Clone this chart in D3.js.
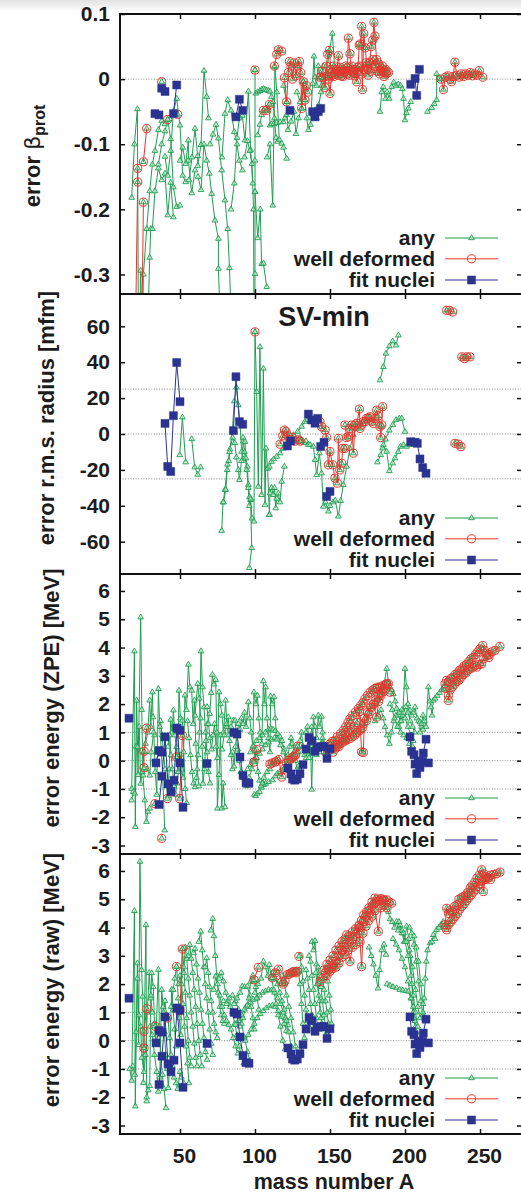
<!DOCTYPE html>
<html>
<head>
<meta charset="utf-8">
<script src="https://cdn.jsdelivr.net/npm/d3@7"></script>
<style>
  html, body { margin: 0; padding: 0; background: #fff; }
  svg { display: block; }
  text { font-family: "Liberation Sans", Arial, Helvetica, sans-serif; font-weight: bold; fill: #1c1c1c; }
</style>
</head>
<body>
<svg id="chart" width="521" height="1196"></svg>
<script>
// ---------- shared axis data ----------
const massTicks = [50, 100, 150, 200, 250];

// ---------- panel 1: error of beta_prot ----------
const betaTicks = [0.1, 0, -0.1, -0.2, -0.3];
const betaTickLabels = ["0.1", "0", "-0.1", "-0.2", "-0.3"];
const betaAny = [
  [[17.8,-0.182],[19.6,-0.100],[21.6,-0.046],[22.4,-0.45]],
  [[22.6,-0.45],[23.8,-0.294],[24.8,-0.40]],
  [[24.5,-0.45],[25.6,-0.30],[27.8,-0.23],[29.8,-0.172],[31.6,-0.131],[33.3,-0.110],[35.6,-0.078],[37.8,-0.064],[40,-0.069]],
  [[27.8,-0.45],[28.8,-0.36],[29.8,-0.274],[30.5,-0.23],[31.6,-0.23],[33.3,-0.172],[35.6,-0.137],[37.8,-0.155],[40,-0.145],[41.8,-0.209],[43.8,-0.159],[45.6,-0.212]],
  [[35.6,-0.131],[37.8,-0.100],[40,-0.080],[41.8,-0.062],[43.8,-0.092],[45.6,-0.166],[47.8,-0.196],[50,-0.194]],
  [[40,-0.119],[41.8,-0.148],[43.8,-0.110],[45.6,-0.050],[47.8,-0.030],[50,-0.071],[51.8,-0.148],[53.8,-0.158]],
  [[50,-0.125],[51.8,-0.105],[53.8,-0.130],[55.6,-0.094],[55.6,-0.125],[57.8,-0.175],[60,-0.140]],
  [[56,-0.155],[58,-0.120],[60,-0.076],[61.8,-0.118],[61.8,-0.133],[64,-0.101],[66,0.013],[67.8,-0.027],[69,-0.060]],
  [[62,-0.150],[64,-0.170],[66,-0.100],[67.8,-0.125],[69.6,-0.145],[71.1,-0.176],[73.3,-0.217],[75.6,-0.245],[75.6,-0.291],[76.7,-0.36]],
  [[70,-0.100],[72,-0.085],[74,-0.070],[75.6,-0.091],[77.8,-0.140],[80,-0.186],[81.8,-0.230],[83,-0.290],[84,-0.36]],
  [[78,-0.120],[80,-0.053],[81.8,-0.032],[84,-0.048],[86.2,-0.081],[88,-0.100],[89.6,-0.125],[91.6,-0.140]],
  [[84,-0.200],[86.2,-0.160],[88,-0.090],[89.6,-0.060],[91.6,-0.056],[93.3,-0.094],[95.6,-0.019],[97.1,-0.109],[98.5,-0.160]],
  [[93,-0.120],[95,-0.095],[96.5,-0.110],[98,-0.130],[99,-0.200],[99.3,-0.36]],
  [[100,0.014],[100,-0.125],[100,-0.173],[100,-0.299],[99.8,-0.40]],
  [[100,-0.173],[101.8,-0.244],[103.5,-0.200],[104.4,-0.284],[105.6,-0.283],[107.8,-0.319]],
  [[100.5,-0.022],[101.8,-0.020],[103.3,-0.018],[104.5,-0.016],[105.6,-0.015],[106.7,-0.016],[107.8,-0.017],[109,-0.018],[110,-0.019],[111,-0.027],[112,-0.035],[113,-0.060],[114,-0.090],[115,-0.096]],
  [[101.8,-0.086],[103.3,-0.070],[104.4,-0.055],[105.6,-0.048],[107.8,-0.048],[109.6,-0.039],[110,-0.071],[111,-0.069],[112.5,-0.069],[114.4,-0.067],[116.7,-0.066],[118.9,-0.066],[120,-0.060],[121,-0.055]],
  [[108,-0.120],[110,-0.100],[111.8,-0.194],[113.3,0.019],[114.5,-0.020],[116.2,-0.093],[117.8,-0.099],[119,-0.105],[121.1,-0.122]],
  [[119,-0.010],[121.1,-0.035],[122,-0.078],[124,-0.065],[126,-0.050],[127.3,-0.084],[129,-0.060],[131,-0.045]],
  [[128,-0.020],[130,-0.035],[132.2,-0.004],[133.3,-0.032],[134.5,-0.060],[135.6,-0.078],[137,-0.070],[138.4,-0.007],[139.3,0.035],[140,0.003],[141,-0.010],[142.2,0.020],[143.5,0.003],[144.4,-0.010],[145.5,0.020]],
  [[141,-0.060],[142.5,-0.040],[144,-0.020],[146,-0.010],[147.5,0.005],[149.6,0.044],[151.6,0.070],[153,0.020]],
  [[183.3,-0.050],[184.5,-0.020],[185.5,-0.012],[187,-0.030],[188,-0.020],[189.5,-0.030],[191,-0.012],[192.5,-0.005],[194,-0.010],[195.5,-0.008],[197,-0.010],[198.2,-0.015],[199,-0.030],[200,-0.063],[201,-0.052],[202.2,-0.045],[203.8,-0.035]],
  [[215,-0.050],[217.8,-0.044],[219.5,-0.038],[221.1,-0.032],[221.1,0.008],[222.5,0.002],[224,0.000]]
];
const betaDeformed = [
  [[19.6,-0.50],[21.8,-0.158],[21.8,-0.137]],
  [[24.0,-0.50],[25.6,-0.189]],
  [[25.6,-0.127],[27.8,-0.076]],
  [[37.8,-0.004]],
  [[41.8,-0.062]],
  [[48.4,-0.054]],
  [[100,0.014]],
  [[105.6,-0.048],[107.8,-0.048],[109.6,-0.039]],
  [[112.9,0.020],[114.5,0.038],[115.6,0.045],[117.8,0.043]],
  [[119.6,0.002],[121.1,-0.035],[122.2,0.010],[122.9,0.027],[124,0.020],[125,0.000],[126.2,0.025],[127.2,0.005],[128.5,0.020],[129.6,0.027],[130.5,0.010],[131.1,-0.045],[132.2,-0.004],[133.3,-0.032],[134.2,-0.010],[135,-0.020]],
  [[143.5,0.003],[144.5,0.012],[145.5,0.002],[146.7,-0.013],[147.5,0.020],[148.5,0.038],[149.6,0.044],[150.5,0.015],[151.5,0.010],[152.5,0.020],[153.5,0.008],[154.5,0.012],[155.6,0.036],[156.5,0.012],[157.5,0.005],[158.5,0.015],[159.5,0.010],[160.5,0.020],[161.5,0.008],[162.2,0.063],[163.3,0.039],[164.2,0.012]],
  [[148,0.005],[149,0.000],[150,-0.022],[151,0.005],[152.5,0.004],[154,0.015],[155.5,0.006],[157,0.018],[158.5,0.004],[160,0.012],[161.5,0.017],[163,0.006],[164.5,0.020],[166,0.010],[167,0.015],[167.8,-0.004],[168.6,0.018],[169.5,0.052],[170.2,0.054],[171.1,0.081],[171.6,-0.016],[172.5,0.070],[173.5,0.048],[174.5,0.020],[175.5,0.015],[176.5,0.025],[177.5,0.050],[178.5,0.060],[179.3,0.087],[180,0.066],[181,0.030],[182,0.025],[183,0.020],[184,0.012],[185,0.020],[186,0.010],[187,0.015],[188,0.012]],
  [[165,0.015],[166.5,0.005],[168,0.010],[169.5,0.020],[171,0.008],[172.5,0.015],[174,0.025],[175.5,0.006],[177,0.012],[178.5,0.030],[180,0.020],[181.5,0.012],[183,0.008],[184.5,0.016],[186,0.004],[187.5,0.008],[189,0.010]],
  [[224,0.000],[225.6,-0.016],[227,0.003],[228.5,0.005],[230,0.000],[231,-0.004],[232,0.004],[233.3,0.026],[234.5,0.006],[236,0.003],[237.5,0.008],[239,0.004],[240.5,0.008],[242,0.006],[243.5,0.010],[245,0.005],[246.5,0.008],[248,0.006],[249.6,0.013],[251.8,0.003]]
];
const betaFit = [
  [[33.3,-0.053],[36,-0.055]],
  [[37.8,-0.014],[40,-0.019]],
  [[45.6,-0.053],[47.8,-0.009]],
  [[87.3,-0.058],[89.6,-0.031],[91.8,-0.048]],
  [[123.3,-0.048]],
  [[138.4,-0.050],[140,-0.058],[142.2,-0.050],[143.8,-0.045]],
  [[203.8,-0.008],[206.7,0.001],[207.8,-0.025],[209.6,0.015]]
];

// ---------- panel 2: error of r.m.s. radius ----------
const radiusTicks = [60, 40, 20, 0, -20, -40, -60];
const radiusTickLabels = ["60", "40", "20", "0", "-20", "-40", "-60"];
const radiusAny = [
  [[49.8,-11.7],[51.6,9.3],[53.8,-15.7]],
  [[57.8,-2.8],[59.8,-18.5],[61.8,-22.6],[63.8,-18.5]],
  [[77.8,-53.9],[78.7,-38],[80,-31],[81.6,-17],[82.5,-15],[83.3,-8.5],[84.9,1.9],[86.2,18.3],[87.6,26],[88.9,16.1],[90,6],[91.1,-9.8],[92.2,-14]],
  [[79,-38],[80.5,-31],[81.5,-20],[83,-10],[85.1,-2],[86.5,-5],[87.6,-13],[88.9,-20],[89.6,-25.6],[91,-15],[92.2,-4],[93.3,-4.3],[94,-13.5],[94.9,-18.1],[95.6,-28.3],[96.4,-35],[97.1,-36.7],[97.8,-63.5],[96.2,-74.6]],
  [[92,-2],[93,-10],[94.5,-20],[95.5,-30],[96.2,-40],[97,-36],[98,-47],[99.3,-48.7],[100,56.9],[101.1,23.5],[102.2,-29.3],[103.3,48.5],[104.4,-33.9],[105.6,36.5],[106.7,-39.4],[107.3,-8],[108.4,-19.1],[109.6,-45]],
  [[109.6,-45],[110,-33],[111,-30],[112.2,-33.9],[113,-30],[113.8,-41.3],[114.5,-36],[115.6,-33],[116.7,-38],[117.8,-26.5],[119.6,-18.1]],
  [[108.4,-19.1],[109.6,-18.1],[111,-15.4],[112.5,-14],[114.4,-12.6],[116.7,-10.7],[118.9,-8],[120.7,-5.2],[122.9,-2.4],[125.6,-0.6],[128.4,1.3],[131.1,4.1],[133.3,6.9],[134.9,7.8]],
  [[130,-2],[131.5,-4],[133,-5],[134,-4],[135.5,-6],[136.7,-6.1],[138.9,-7],[140,-14.4],[141.1,-22.8],[142.9,-10.7],[144.4,-21.9],[145.6,-40.4],[147,-38],[148.9,-43.1],[150,-40],[152,-38],[153.5,-37],[155.6,-45.9],[157.1,-37.2],[158.9,-28.3],[161.1,-18.1],[163.3,-8],[165.6,-0.6],[167.5,3]],
  [[181.6,-15.7],[183.8,-11.7],[185.6,-6.1],[187.8,-9.8],[189.6,-20.6],[191.8,-16.3],[193.3,-13.5],[195.5,-10],[197,-7],[198.9,-6.1],[201.1,-7],[203,-6]],
  [[185,-8],[187,-3],[189.5,2],[191.8,5],[194,7.8],[196.2,8.7],[197.8,8.7],[200,1.3]],
  [[183.3,30],[185.6,37.4],[187.3,44.8],[189.6,48.9],[191.8,51.7],[194,49.4],[195.6,55]]
];
const radiusDeformed = [
  [[100,56.9]],
  [[116.7,-5.7],[118.5,-1],[119.6,2.2],[120.7,1.3],[122,-1],[123.5,-3],[125,-2],[126.5,-4],[128.9,-3.3],[130,-4]],
  [[143.3,6.9],[144.5,4],[146.7,2.2],[147.8,-2],[148.9,-17.2],[150,-9.8],[151.8,-17.2],[153.3,-24.6],[154.9,-27.4],[155.6,-2.4],[156.5,-20],[157.8,-16.3],[158.5,-8],[160,-8]],
  [[160,5],[161,-2],[162.2,-1.5],[163.3,3.1],[164.5,5],[165.6,-10.7],[166.7,5],[168,6],[169.6,13.9],[170,3.1],[171,5],[172.2,6.9],[173.5,7],[174.4,8.7],[175.5,9],[176.7,9.6],[177.8,7],[178.9,5.9],[180,8.7],[181.1,13.3],[182,10],[183.3,4.1],[183.8,-2],[184.5,5],[185.1,15.2]],
  [[227.8,68.9],[229.6,68.9],[231.8,68]],
  [[237.8,43],[239.6,42],[241.1,43],[243.3,43]],
  [[233.3,-5.2],[235.6,-5.7],[237.3,-7]]
];
const radiusFit = [
  [[40,5.9],[41.8,-18.1],[43.8,-20.9],[45.6,10.2],[47.8,39.8],[50,18.0]],
  [[85.6,1.9],[87.3,31.9],[89.6,6.9],[91.8,5.4]],
  [[121.6,-6.7],[123.8,-3.9]],
  [[135.6,11.1],[137.8,7.8],[140,6.0],[141.8,8.7]],
  [[143.8,-7.0],[146,-4.6]],
  [[147.8,-34.8],[150,-32.0]],
  [[203.8,-4.3],[206.7,-4.6],[208.2,-5.2],[210,-13.9],[211.8,-18.7],[214,-21.9]]
];

// ---------- panels 3 and 4: error of binding energy ----------
const energyTicks = [6, 5, 4, 3, 2, 1, 0, -1, -2, -3];
const energyTickLabels = ["6", "5", "4", "3", "2", "1", "0", "-1", "-2", "-3"];

const zpeAny = [
  [[17.8,-0.99],[19.6,3.87],[20.2,-2.34],[21.1,2.13],[22,-0.5],[23.8,5.07],[24.5,1.8],[25.3,-0.52],[26.5,-1.4],[27.6,-2.16],[28.6,-1.8],[29.8,-1.69]],
  [[17.8,-1.4],[18.8,-1.1],[19.8,-1.16],[20.8,0.5],[21.8,0.48],[22.8,1.2],[23.8,-0.81],[24.8,-0.4],[26,0.3],[27,0.6],[28.5,1.0],[29.8,2.13],[30.5,1.2],[31.6,2.42],[32,1.54],[33,0.9]],
  [[28,-0.3],[29.8,-0.52],[30.8,0.3],[32.5,1.0],[33.5,-0.4],[34.5,-1.2],[35.6,2.54],[36.5,1.2],[37.5,0.4],[38.5,-0.6],[39.8,-2.46]],
  [[37,1.4],[38,0.9],[39,0.3],[40,-0.3],[41,-0.9],[41.8,-1.26],[42.8,-0.3],[43.8,1.45],[44.8,1.0],[45.6,1.78],[46.6,0.9],[47.6,0.48],[48.5,-0.4],[49.3,2.48],[50.3,1.5],[51.6,1.42],[52.5,0.3],[53.5,-1.0],[54.4,-1.49]],
  [[42,0.5],[43,0.9],[44,0.2],[45,-0.3],[46,-0.9],[47,-1.2],[48,-0.8],[49,-0.4],[50,0.2],[51,-0.3],[52,-0.6],[53.3,2.31],[54.3,1.8],[55.6,3.4],[56.6,2.6],[57.8,2.48],[58.8,1.3],[59.6,2.13],[60.5,0.6],[61.5,-0.3],[62.5,-0.9]],
  [[55,1.4],[56,0.8],[57,0.2],[58,-0.4],[59,-0.8],[60,-0.93],[61,-0.6],[62,0.2],[63,1.0],[64,3.87],[65,2.6],[66,1.89],[67,1.0],[68,0.3],[69,-0.4],[70,-0.8]],
  [[60,1.6],[61.8,2.72],[62.8,2.2],[63.8,1.5],[64.8,0.5],[65.3,-0.81],[66.3,-0.3],[67.3,0.7],[68.3,1.3],[69.8,1.66],[70.8,2.4],[71.6,3.04],[72.6,2.7],[73.8,2.86],[74.5,1.0],[74.9,-1.69],[76,-0.5],[77,0.9],[77.8,-1.69],[78.8,-0.8],[80,-1.64]],
  [[68,1.9],[69,1.3],[70,0.8],[71,0.4],[72,0.9],[73,1.3],[74,0.5],[75,0.1],[76,2.42],[77,2.0],[78,1.6],[79,1.0],[80.4,2.13],[81.3,1.2],[82.2,1.54],[83,0.7],[84,0.2],[85,-0.3]],
  [[78,0.4],[79.5,0.9],[81,1.3],[82.5,0.9],[84,1.2],[85.5,1.42],[86.7,1.42],[87.5,0.9],[88.5,0.4],[89.5,0.0],[90.5,-0.4]],
  [[85,0.3],[86,-0.2],[87,0.5],[88,1.0],[89,1.3],[90,1.1],[91,1.5],[92,1.3],[93,1.7],[94,1.2],[95.6,2.07],[96.5,1.5],[97.5,1.0],[98.5,0.5],[99.3,2.42],[100.5,2.0],[101.6,2.3],[102.5,1.5],[103.5,1.0],[104.5,0.6],[105.6,2.81],[106.3,2.0],[107.1,2.6],[108,1.5],[109,0.8],[110,0.3],[110.4,2.27],[111.5,2.0],[112.7,2.25],[113.5,1.5],[114.5,0.8]],
  [[97,0.3],[99,0.5],[101,0.7],[103,0.8],[105,0.9],[107,1.0],[109,1.1],[110.5,1.13],[112,1.1],[113.5,1.05],[115,0.95],[116.5,0.85],[118,0.7],[119.5,0.4],[121,0.1]],
  [[95,-0.3],[97,-0.15],[99,0.0],[101,0.1],[103,0.25],[105,0.4],[107,0.55],[109,0.65],[111,0.75],[113,0.8],[115,0.75],[117,0.55],[119,0.3],[121,0.0],[122,-0.3]],
  [[99.6,-1.2],[100.5,-1.25],[101.6,-1.16],[103,-1.1],[104.5,-0.95],[106,-0.85],[107.1,-0.81],[109,-0.75],[111.6,-0.69],[113.5,-0.55],[114.9,-0.46],[116.5,-0.4],[118.2,-0.34],[120,-0.25],[122,-0.1],[124,0.0],[126,0.15],[128,0.3]],
  [[92,-0.6],[94,-0.9],[96,-0.6],[98,-0.3],[99,0.0],[100,0.35],[101,0.1],[102,-0.4],[103,-0.7],[104,-0.9],[105,-0.8],[106,-0.6],[108,-0.4],[110,-0.3]],
  [[122,0.2],[123,0.5],[124,0.8],[125,0.6],[126,0.3],[127,0.0],[128,-0.3],[129,-0.2]],
  [[128,0.5],[129,0.3],[130,0.7],[131,1.0],[132,0.5],[133,0.2],[134,0.1],[135,0.3]],
  [[134,1.0],[135,1.2],[136,0.8],[137,0.5],[137.8,-1.02],[138.5,0.4],[138.9,1.54],[140,1.2],[141,0.8],[142.2,1.6],[143,1.2],[144.4,1.56],[145,1.0],[146,0.6],[147,0.4]],
  [[136,0.1],[137.8,1.19],[139,0.7],[140,0.4],[141,0.2],[142,0.5],[143,0.3],[144,0.6],[145,0.8],[146,0.5],[147,0.3],[148,0.35],[149,0.5],[150,0.6]],
  [[182,2.2],[184,2.5],[186,2.7],[187.8,3.25],[188.9,2.78],[190,2.6],[191,2.5],[192.2,2.36],[193.5,2.1],[194.4,1.84],[195.5,1.6],[197,1.4],[198.5,1.6],[200,3.25],[201,2.6],[202,2.0],[203.3,1.78],[204.5,1.6],[205.5,1.7],[206.7,1.89],[208,1.5],[209,1.4],[210,1.36],[211,1.2],[212,1.1]],
  [[180,1.4],[182,1.6],[184,1.8],[185.5,1.5],[186.7,1.19],[188,0.9],[189.6,0.6],[191,1.0],[192.5,1.4],[194,1.6],[196,1.7],[198,1.8],[200,1.5],[202,1.2],[204,0.9],[205.5,0.7]],
  [[210,1.0],[211,1.3],[212,1.6],[213,1.4],[214,1.2],[215.6,2.6],[216.5,2.1],[217.3,1.89],[218,1.6],[218.9,2.13],[220,2.2],[221.5,2.3],[223,2.4],[224.5,2.5],[226,2.6]],
  [[196,1.2],[197.5,1.4],[199,1.7],[200.5,1.9],[202,1.7],[203.5,1.4],[205,1.2],[206.5,1.0]],
  [[190,2.0],[191.5,1.8],[193,1.5],[195,1.2],[197,1.0],[199,0.9],[201,0.8],[203,0.6],[205,0.5]]
];
const zpeDeformed = [
  [[27.8,1.15],[26,0.33],[26,-0.25]],
  [[33.3,-1.52]],
  [[37.8,-2.75]],
  [[41.6,-1.34]],
  [[47.6,0.13]],
  [[51.6,0.89],[49.8,-1.34]],
  [[99.3,-0.05],[101.1,0.39]],
  [[110,-0.12],[111.6,-0.08],[113.5,-0.05],[114.4,-0.02],[116,0.04],[117.8,-0.58],[119.5,-0.3],[121,-0.1],[122.5,0.0],[123.8,0.07],[125,0.12],[126,0.15],[127,0.2],[128.4,0.51]],
  [[147,0.3],[149,0.38],[151.1,0.42],[153,0.48],[155,0.55],[156.7,0.6],[158.5,0.65],[160,0.7],[161.5,0.74],[163.3,0.78],[165,0.85],[166.5,0.9],[168,1.0],[170,1.07],[171.5,1.15],[172.5,1.3],[174.4,1.42],[176,1.65],[177.8,1.89],[179,2.0],[180.5,2.15],[182.2,2.25],[184,2.4],[186,2.55],[187.8,2.72]],
  [[150,0.6],[151.5,0.68],[153.3,0.72],[155,0.85],[157,0.95],[158.9,1.07],[160.5,1.2],[162,1.35],[163.3,1.48],[165,1.6],[167,1.72],[168.9,1.84],[170.5,1.95],[172,2.05],[173.3,2.19],[175,2.3],[176.7,2.42],[178.5,2.5],[180,2.55],[181.5,2.6],[183.3,2.6],[185,2.65],[187,2.7],[188.9,2.72],[190,2.42]],
  [[152,0.3],[154,0.45],[156,0.5],[158,0.75],[160,0.9],[162,1.0],[164,1.1],[166,1.2],[168,1.35],[169.6,1.74],[171.1,0.31],[172.2,0.29],[173,1.5],[175,1.7],[177,1.9],[179,2.0],[181.1,1.54],[182.5,2.1],[184,2.3],[186,2.45]],
  [[226.7,2.72],[227.8,2.84],[229,2.8],[230.5,2.9],[232,2.95],[233.5,3.05],[235,3.1],[236.5,3.2],[238,3.25],[239.5,3.35],[241,3.4],[242.5,3.5],[244,3.6],[245.5,3.65],[247,3.75],[248.5,3.85],[250,3.95],[251.8,4.07],[253,3.9],[254.5,3.8],[256,3.75],[258,3.85],[260,3.9],[263.3,4.04]],
  [[227,2.55],[228.9,2.31],[228.9,2.13],[230,2.5],[231.5,2.6],[233,2.7],[234.5,2.8],[236,2.85],[237.5,2.95],[239,3.05],[240.5,3.1],[242,3.2],[243.5,3.25],[245,3.3],[246.5,3.35],[247.8,3.31],[249.5,3.4],[251.1,3.42],[252.5,3.6],[254.4,3.72],[256,3.65]]
];

const rawAny = [
  [[16.5,-1.0],[17.8,-1.41],[19.6,4.59],[20.2,-2.32],[21.6,2.74],[22.4,-0.15],[23.3,6.33],[24.4,2.5],[25.1,1.56],[25.6,-1.49],[27.3,4.09],[27.8,-2.14]],
  [[18.5,-0.9],[19.8,-1.2],[20.8,0.3],[21.6,2.2],[22.6,0.9],[23.8,0.5],[24.6,-0.6],[26,-1.1],[27,-0.5],[28.2,1.0],[29.5,2.4],[30.5,1.5],[31.6,1.0]],
  [[27.8,-2.0],[28.8,-1.75],[29.8,-1.6],[30.6,1.6],[31.1,2.39],[32.2,1.9],[33,0.6],[33.8,-0.1],[35.6,2.51],[36.2,0.51],[37.2,-0.6],[38.3,-1.2],[39.3,-1.7],[40.7,-2.38]],
  [[30,0.5],[31.5,0.2],[33,-0.5],[34.5,-1.1],[35.5,-1.8],[36.5,-1.3],[37.8,1.8],[38.8,1.2],[39.6,0.3],[40.5,-0.5],[41.5,-1.0],[42.2,-1.67],[43.2,-0.8],[44.4,1.8],[45.4,1.1],[46.4,0.4],[47.4,-0.2]],
  [[39,1.0],[40,1.4],[41,0.9],[42,0.8],[43,0.1],[44,-0.5],[45,-0.9],[46,-1.3],[47.5,-1.5],[48.5,-1.7],[50,-1.1],[51,-1.3],[52.5,-1.5]],
  [[44,1.2],[45.5,1.8],[46.5,2.2],[47.8,2.62],[48.8,1.5],[49.5,0.8],[50.5,0.2],[51.6,3.24],[52.5,2.6],[53.5,1.7],[54.5,0.8],[55.5,0.0],[56.5,-0.6],[57.5,-0.9]],
  [[49,2.0],[50,2.3],[51,2.0],[52,1.3],[53,0.5],[54,-0.2],[55,-0.8],[56,-1.5]],
  [[52.5,2.4],[53.5,3.3],[54.5,2.9],[55.5,2.2],[56.5,1.6],[57.5,1.0],[58.5,0.5],[59.5,-0.1],[60.5,-0.6],[61.5,-0.9]],
  [[55.5,3.0],[56.5,3.39],[57.5,2.9],[58.5,2.4],[59.5,1.8],[60.5,1.2],[61.5,0.6],[62.5,0.0],[63.5,-0.5],[64.5,-0.9]],
  [[59,3.1],[60,3.25],[61,2.7],[62,2.2],[63,1.7],[64,1.1],[65,0.6],[66,0.1],[67,-0.4],[68,-0.67]],
  [[62.5,3.5],[63.8,3.86],[64.8,3.2],[65.8,2.6],[66.8,2.0],[67.8,1.5],[68.8,1.0],[69.8,0.4],[70.8,-0.1],[71.8,-0.5]],
  [[66.8,2.6],[67.8,2.92],[68.8,2.4],[69.8,1.9],[70.8,1.4],[71.8,1.0],[72.8,0.6],[73.8,0.3],[74.8,0.1]],
  [[70.6,3.9],[71.8,4.31],[72.6,3.7],[73.5,3.0],[74.5,2.3],[75.5,1.7],[76.5,1.2],[77.5,0.9],[78.5,0.7],[79.5,0.6]],
  [[72.5,1.8],[73.8,2.27],[75,2.0],[76.5,1.6],[78,1.2],[79.5,0.9],[81,0.7],[82.5,0.55],[84,0.4],[85.5,0.1],[87,-0.2],[88.5,-0.45]],
  [[76,2.2],[77.5,2.4],[79,2.1],[80.5,1.7],[82,1.4],[83.5,1.2],[85,1.0],[86.5,0.6],[88,0.2],[89.5,-0.2],[91,-0.6],[92.5,-0.8]],
  [[79,1.4],[81,1.3],[83,1.5],[85,1.6],[87,1.4],[89,1.1],[91,0.6],[93,0.1],[95,-0.4],[96.5,-0.7]],
  [[86,1.3],[88,1.5],[90,1.7],[91.5,1.92],[93,1.9],[94.9,1.92],[96.5,1.6],[97.5,1.2],[98.5,0.8],[99.5,0.4]],
  [[90,0.5],[92,0.8],[94,1.2],[96,1.5],[97.1,2.09],[98.5,2.3],[99.5,2.1],[100.5,1.9],[101.5,1.5],[102.5,1.1]],
  [[87,0.56],[89,0.7],[91,0.9],[93,1.1],[95,1.25],[97,1.35],[99,1.45],[101,1.5],[103,1.6],[105,1.7],[107,1.75],[109,1.8],[111,1.78],[113,1.7],[115,1.5],[117,1.3],[119,1.0],[120.5,0.8],[122,0.55]],
  [[93.5,0.0],[95.5,0.2],[97.5,0.4],[99.5,0.6],[101.5,0.8],[103.5,0.95],[105.5,1.05],[107.5,1.15],[109.5,1.22],[111.5,1.25],[113.5,1.2],[115.5,1.05],[117.5,0.85],[119.5,0.6],[121,0.35]],
  [[100,1.7],[102,2.0],[104,2.2],[105.6,2.8],[107,2.6],[108.5,2.3],[109.6,2.68],[111,2.2],[112.5,1.8],[114,1.3],[115.5,0.9],[117,0.5],[118.5,0.0],[120,-0.3]],
  [[112,2.4],[113.5,2.2],[115,2.0],[116.5,1.7],[118,1.4],[119.5,1.1],[121,0.7],[122.5,0.3],[124,-0.2],[125,-0.5]],
  [[118,2.3],[119.5,2.0],[121,1.6],[122.5,1.2],[124,0.8],[125.5,0.3],[127,-0.2],[128,-0.6]],
  [[126,2.4],[127.5,2.5],[129,2.45],[130,2.0],[131,1.3],[132,0.6],[133,0.1]],
  [[130,3.0],[131,2.6],[132,2.1],[133,1.6],[134,1.1],[135,0.7],[136,0.5]],
  [[134,2.5],[135,2.2],[136,1.8],[137,1.3],[138,0.9],[139,0.4]],
  [[136,3.0],[137,2.8],[138,2.3],[139,1.8],[140,1.3],[141,0.8],[142,0.5]],
  [[138,3.5],[139,3.2],[140,3.53],[141,2.7],[142,2.0],[143,1.4],[144,0.8]],
  [[140.5,2.4],[141.5,2.0],[142.5,1.6],[143.5,1.0],[144.5,0.6],[145.5,0.4]],
  [[142,2.6],[143,2.3],[144,1.9],[145,1.4],[146,0.9],[147,0.5],[148,0.3]],
  [[145,2.2],[146,1.8],[147,1.4],[148,1.0],[149,0.6],[150,0.4]],
  [[147.5,2.6],[148.5,2.1],[149.5,1.6],[150.5,1.1],[151,0.6]],
  [[176,3.3],[177.5,3.0],[179,2.7],[180.5,2.3],[182,1.85],[183,2.5],[184.5,3.2],[186,3.4],[187.3,3.04]],
  [[186,4.8],[187.5,4.7],[188.9,4.56],[190,4.3],[191.5,4.2],[193,4.0],[194.4,4.21],[195.5,3.9],[196.7,4.09],[198,3.8],[199.5,3.5],[201.1,4.04],[202.5,3.6],[203.5,3.0],[204.5,2.0],[205.5,1.2],[206.5,0.7]],
  [[188,2.0],[190,1.95],[192,1.9],[194.4,1.86],[196.5,1.8],[198.5,1.78],[200.5,1.76],[202.2,1.74],[204,1.5],[205.5,1.0],[207,0.5]],
  [[192,3.6],[194,3.4],[196,3.2],[198,2.9],[200,2.6],[202,2.1],[204,1.5],[206,0.8],[207.5,0.3]],
  [[196,4.2],[198,3.9],[200,3.5],[202,3.0],[204,2.3],[205.5,1.6],[207,1.0],[208.5,0.5]],
  [[199,3.8],[201,3.5],[203,3.2],[205,2.6],[207,1.8],[208.5,1.2],[210,0.8]],
  [[203,4.0],[204.5,3.8],[206,3.4],[207.5,2.8],[209,2.1],[210.5,1.4],[212,0.9]],
  [[206,3.7],[207.5,3.3],[209,2.8],[210.5,2.0],[212,1.3],[213,0.8]],
  [[212,1.0],[212.8,1.5],[213.5,2.2],[214.2,2.8],[215,3.2],[216.7,3.45],[218,3.5],[218.9,3.74],[220,3.6],[221.1,3.92],[222.5,4.0],[224,4.1],[225.5,4.2]]
];
const rawDeformed = [
  [[27.8,1.13],[26,0.33],[26,-0.26]],
  [[33.3,0.51]],
  [[41.6,0.8]],
  [[47.6,2.62]],
  [[50,1.07],[51.6,3.24]],
  [[99.3,2.15],[102.2,2.59]],
  [[111.6,2.22],[113.5,2.4],[115.6,2.53],[117.8,2.07],[118.9,2.0],[120,2.1],[121.6,2.33],[122.7,2.35],[123.8,2.39],[125,2.42],[126,2.45],[127.2,2.4],[128.3,2.45]],
  [[129.3,2.98]],
  [[143.3,2.09],[145,2.2],[147,2.4],[149,2.5],[151,2.6],[152.2,2.68],[154,2.8],[156,3.0],[158,3.2],[159.5,3.3],[161,3.4],[163,3.5],[165,3.6],[166.7,3.68],[168.5,3.8],[170,4.0],[172.2,4.21],[174,4.4],[176,4.6],[178,4.75],[180,4.85],[181.1,4.92],[183,4.95],[185,4.97],[187.8,4.98],[189.5,4.9],[191.1,4.86]],
  [[146,2.5],[148,2.7],[150,2.85],[152,3.0],[154,3.2],[156,3.35],[158,3.5],[160,3.6],[161.1,3.74],[163,3.7],[165,3.85],[167,3.95],[169.6,4.09],[171,4.25],[172.5,4.45],[174.4,4.56],[176,4.7],[178,4.9],[180,5.04],[182,5.0],[184,5.02],[186,4.98]],
  [[148,2.3],[150,2.45],[152,2.55],[154,2.6],[156,2.75],[158,2.95],[160,3.05],[162,3.2],[163.3,2.8],[165,3.3],[167,3.4],[168.9,4.04],[170,3.5],[171.1,2.62],[172,3.8],[174,4.05],[176,4.25],[178,4.4],[180,4.6],[182.2,3.86],[184,4.7],[186,4.8],[188,4.7]],
  [[226.7,4.1],[227.8,4.68],[229,4.5],[230,4.6],[231.5,4.55],[233,4.75],[234.5,4.8],[236,5.0],[237.5,5.05],[239,5.1],[240.5,5.15],[242,5.25],[243.5,5.4],[245,5.5],[246.5,5.6],[248,5.75],[249.5,5.85],[251.1,6.04],[252.5,5.9],[254,5.8],[255.5,5.75],[257,5.7]],
  [[227,4.0],[227.8,3.92],[229,4.1],[230.5,4.2],[232,4.3],[233.5,4.4],[235,4.5],[236.5,4.65],[238,4.75],[239.5,4.85],[241,4.95],[242.5,5.05],[244,5.15],[245.5,5.25],[247,5.35],[248.5,5.45],[250,5.55],[251.5,5.65],[252.2,5.27],[253.5,5.7],[255,5.75],[257,5.85],[258.9,5.88],[261,5.9],[263.3,5.96]]
];
// fit nuclei are spherical, so their energy error is the same with and without ZPE
const energyFit = [
  [[16,1.5]],
  [[34,-0.08],[36,0.36],[38,0.3]],
  [[36,-1.55],[38,-0.55],[40,0.84],[42,-0.82],[44,-1.1],[46,-0.69],[48,1.15],[50,1.07]],
  [[48,1.15],[50,-0.08],[52,-1.65]],
  [[68,-0.1]],
  [[86,1.0],[88,0.94],[90,0.13],[92,-0.52],[94,-0.78],[96,-0.8]],
  [[122,-0.26],[124,-0.47],[125,-0.65],[126.5,-0.69],[128.2,-0.65],[130,-0.46],[132,-0.14]],
  [[134,0.41],[136,0.82],[138,0.7],[140,0.33],[142,0.47],[144,0.5],[146,0.5],[148,0.08],[150,0.42]],
  [[203.3,0.84],[204.4,0.33],[206,0.21],[206.7,-0.12],[207.8,-0.46],[210,-0.24],[212.2,0.27],[214,0.76]],
  [[208.9,-0.02],[211.8,-0.02],[215.6,-0.08]]
];

// ---------- layout ----------
const W = 521, H = 1196;
const X0 = 120, X1 = 522;
const GREEN = "#1f9e50", RED = "#e8342c", BLUE = "#2b3391";
const TICK_FONT = 21, TITLE_FONT = 22, LEGEND_FONT = 21;

const panels = [
  { top: 14,  bottom: 294,  domain: [-0.33, 0.1], ticks: betaTicks, labels: betaTickLabels, guides: [0],
    any: betaAny, def: betaDeformed, fit: betaFit, labelX: 40, labelY: 156, kind: "beta" },
  { top: 294, bottom: 574,  domain: [-78, 78], ticks: radiusTicks, labels: radiusTickLabels, guides: [25, 0, -25],
    any: radiusAny, def: radiusDeformed, fit: radiusFit, labelX: 54, labelY: 418, text: "error r.m.s. radius [mfm]" },
  { top: 574, bottom: 854,  domain: [-3.3, 6.6], ticks: energyTicks, labels: energyTickLabels, guides: [1, 0, -1],
    any: zpeAny, def: zpeDeformed, fit: energyFit, labelX: 59, labelY: 698, text: "error energy (ZPE) [MeV]" },
  { top: 854, bottom: 1134, domain: [-3.3, 6.6], ticks: energyTicks, labels: energyTickLabels, guides: [1, 0, -1],
    any: rawAny, def: rawDeformed, fit: energyFit, labelX: 59, labelY: 980, text: "error energy (raw) [MeV]" }
];

const svg = d3.select("#chart");
const defs = svg.append("defs");

// faint grey band along the top edge
const grad = defs.append("linearGradient").attr("id", "topband").attr("x1", 0).attr("x2", 0).attr("y1", 0).attr("y2", 1);
grad.append("stop").attr("offset", "0%").attr("stop-color", "#e2e2e2");
grad.append("stop").attr("offset", "100%").attr("stop-color", "#ffffff");
svg.append("rect").attr("x", 0).attr("y", 0).attr("width", W).attr("height", 12).attr("fill", "url(#topband)");

const x = d3.scaleLinear().domain([10, 278]).range([X0, X1]);
const triangle = d3.symbol().type(d3.symbolTriangle).size(14);
const circle = d3.symbol().type(d3.symbolCircle).size(52);
const square = d3.symbol().type(d3.symbolSquare).size(64);

const greenMarker = s => s.attr("d", triangle).attr("fill", "#bfe6cc").attr("fill-opacity", 0.6).attr("stroke", GREEN).attr("stroke-width", 0.9);
const redMarker = s => s.attr("d", circle).attr("fill", "none").attr("stroke", RED).attr("stroke-width", 1);
const blueMarker = s => s.attr("d", square).attr("fill", BLUE).attr("stroke", BLUE).attr("stroke-width", 0.5);

function drawLines(g, y, chains, color) {
  const line = d3.line().x(d => x(d[0])).y(d => y(d[1]));
  g.append("g").selectAll("path").data(chains).join("path")
    .attr("d", line).attr("fill", "none").attr("stroke", color).attr("stroke-width", 1);
}
function drawMarkers(g, y, points, marker) {
  g.append("g").selectAll("path").data(points).join("path")
    .attr("transform", d => `translate(${x(d[0])},${y(d[1])})`).call(marker);
}

panels.forEach((p, i) => {
  const y = d3.scaleLinear().domain(p.domain).range([p.bottom, p.top]);
  const g = svg.append("g");

  defs.append("clipPath").attr("id", "clip" + i).append("rect")
    .attr("x", X0).attr("y", p.top).attr("width", X1 - X0).attr("height", p.bottom - p.top);

  // dotted reference lines
  g.append("g").selectAll("line").data(p.guides).join("line")
    .attr("x1", X0).attr("x2", X1).attr("y1", d => y(d)).attr("y2", d => y(d))
    .attr("stroke", "#8a8a8a").attr("stroke-width", 1).attr("stroke-dasharray", "1,1.6");

  const plot = g.append("g").attr("clip-path", `url(#clip${i})`);
  // "any" covers every nucleus, the well-deformed ones included
  drawLines(plot, y, p.any, GREEN);
  drawMarkers(plot, y, p.any.flat().concat(p.def.flat()), greenMarker);
  drawLines(plot, y, p.def, RED);
  drawMarkers(plot, y, p.def.flat(), redMarker);
  drawLines(plot, y, p.fit, BLUE);
  drawMarkers(plot, y, p.fit.flat(), blueMarker);

  // axes: inward ticks on all four sides
  const fmt = d => p.labels[p.ticks.indexOf(d)];
  const left = g.append("g").attr("transform", `translate(${X0},0)`)
    .call(d3.axisLeft(y).tickValues(p.ticks).tickSize(-5).tickPadding(10).tickFormat(fmt));
  const right = g.append("g").attr("transform", `translate(${X1},0)`)
    .call(d3.axisRight(y).tickValues(p.ticks).tickSize(-5).tickFormat(""));
  const top = g.append("g").attr("transform", `translate(0,${p.top})`)
    .call(d3.axisTop(x).tickValues(massTicks).tickSize(-5).tickFormat(""));
  const bottom = g.append("g").attr("transform", `translate(0,${p.bottom})`)
    .call(d3.axisBottom(x).tickValues(massTicks).tickSize(-5).tickPadding(14)
      .tickFormat(i === panels.length - 1 ? d3.format("d") : ""));
  bottom.selectAll("text").attr("dx", 4);
  [left, right, top, bottom].forEach(a => {
    a.select(".domain").remove();
    a.selectAll(".tick line").attr("stroke", "#111").attr("stroke-width", 1.5);
    a.selectAll("text").attr("font-size", TICK_FONT).attr("font-family", null).attr("fill", "#1c1c1c");
  });

  // frame
  g.append("rect").attr("x", X0).attr("y", p.top).attr("width", X1 - X0).attr("height", p.bottom - p.top)
    .attr("fill", "none").attr("stroke", "#111").attr("stroke-width", 2);

  // y-axis title
  const t = g.append("text").attr("transform", `translate(${p.labelX},${p.labelY}) rotate(-90)`)
    .attr("text-anchor", "middle").attr("font-size", TITLE_FONT);
  if (p.kind === "beta") {
    t.append("tspan").text("error ");
    t.append("tspan").attr("font-weight", "normal").attr("font-family", "DejaVu Sans, sans-serif").text("β");
    t.append("tspan").attr("font-size", 16).attr("dy", 5).text("prot");
  } else {
    t.text(p.text);
  }

  // legend
  const legend = [
    { name: "any", color: GREEN, marker: greenMarker, dy: -56 },
    { name: "well deformed", color: RED, marker: redMarker, dy: -35.2 },
    { name: "fit nuclei", color: BLUE, marker: blueMarker, dy: -14 }
  ];
  const lg = g.append("g");
  legend.forEach(l => {
    const ly = p.bottom + l.dy;
    lg.append("text").attr("x", 435).attr("y", ly).attr("dy", "0.33em").attr("text-anchor", "end")
      .attr("font-size", LEGEND_FONT).text(l.name);
    lg.append("line").attr("x1", 445).attr("x2", 498).attr("y1", ly).attr("y2", ly)
      .attr("stroke", l.color).attr("stroke-width", 1);
    lg.append("path").attr("transform", `translate(471.5,${ly})`).call(l.marker);
  });

  if (i === 1) {
    g.append("text").attr("x", 324).attr("y", 326).attr("text-anchor", "middle")
      .attr("font-size", 27).text("SV-min");
  }
});

// x-axis title
svg.append("text").attr("x", 334).attr("y", 1189).attr("text-anchor", "middle")
  .attr("font-size", 21.5).text("mass number A");
</script>
</body>
</html>
